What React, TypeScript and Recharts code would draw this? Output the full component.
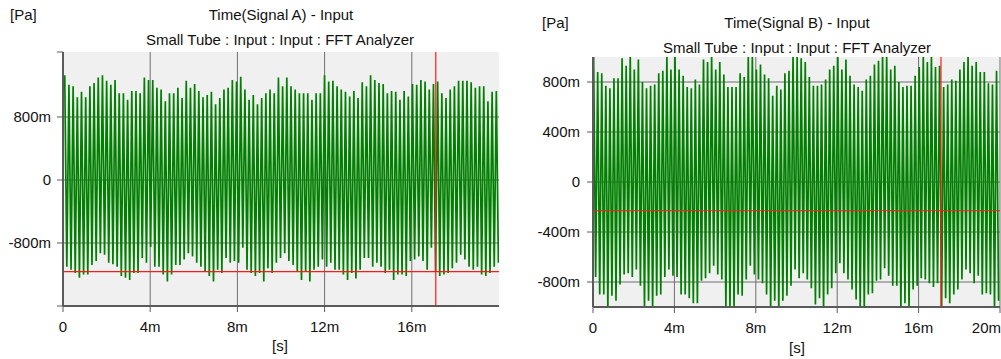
import React from 'react';
import { LineChart, Line, XAxis, YAxis, CartesianGrid, ReferenceLine } from 'recharts';

// Signal A: peak / trough of every cycle (Pa)
const A_PEAKS = [
  1.33, 1.21, 1.19, 1.05, 1.12, 1.05, 1.19, 1.23, 1.30, 1.33,
  1.26, 1.21, 1.27, 1.10, 1.10, 1.02, 1.13, 1.13, 1.10, 1.30,
  1.27, 1.27, 1.17, 1.15, 1.00, 1.10, 1.10, 1.17, 1.04, 1.26,
  1.17, 1.22, 1.13, 1.05, 1.08, 1.12, 0.96, 1.04, 1.15, 1.17,
  1.27, 1.25, 1.31, 1.15, 1.02, 1.08, 0.96, 1.04, 1.10, 1.15,
  1.10, 1.30, 1.19, 1.30, 1.19, 1.15, 1.10, 1.10, 1.10, 1.02,
  1.10, 1.10, 1.33, 1.25, 1.26, 1.19, 1.15, 1.12, 1.06, 1.13,
  1.04, 1.24, 1.19, 1.33, 1.27, 1.23, 1.22, 1.10, 1.13, 1.12,
  1.02, 1.13, 1.06, 1.22, 1.21, 1.27, 1.25, 1.15, 1.22, 1.25,
  1.10, 1.04, 1.15, 1.19, 1.26, 1.26, 1.26, 1.24, 1.17, 1.19,
  1.19, 1.00, 1.12, 1.13,
];
const A_TROUGHS = [
  -1.10, -1.14, -1.18, -1.24, -1.20, -1.20, -1.08, -1.03, -0.93, -0.95,
  -1.05, -1.07, -1.10, -1.22, -1.24, -1.27, -1.18, -1.18, -0.99, -1.05,
  -0.85, -1.10, -1.10, -1.20, -1.29, -1.20, -1.08, -1.08, -1.01, -0.93,
  -0.97, -1.05, -1.10, -1.16, -1.22, -1.29, -1.14, -1.18, -0.99, -1.05,
  -1.03, -1.05, -0.86, -1.14, -1.18, -1.22, -1.18, -1.29, -1.12, -1.18,
  -1.05, -0.99, -0.93, -1.03, -1.08, -1.16, -1.27, -1.16, -1.29, -1.14,
  -1.10, -1.01, -1.10, -1.05, -1.14, -1.14, -1.20, -1.27, -1.18, -1.25,
  -1.14, -0.99, -0.99, -1.10, -1.05, -1.10, -1.18, -1.14, -1.27, -1.20,
  -1.20, -1.22, -1.03, -1.01, -0.97, -1.03, -1.14, -0.86, -1.16, -1.22,
  -1.20, -1.18, -1.12, -1.05, -0.95, -1.01, -1.10, -1.14, -1.10, -1.20,
  -1.22, -1.18, -1.10, -1.05,
];

// Signal B (values past +-1 are clipped by the plot)
const B_PEAKS = [
  1.02, 0.88, 0.87, 0.77, 0.75, 0.83, 0.83, 0.99, 0.93, 1.02,
  0.90, 0.98, 0.80, 0.75, 0.77, 0.78, 0.87, 0.89, 1.02, 0.90,
  1.02, 0.90, 0.85, 0.76, 0.75, 0.82, 0.78, 0.98, 0.96, 1.02,
  0.90, 0.96, 0.86, 0.76, 0.76, 0.76, 0.87, 0.84, 1.02, 1.02,
  0.90, 0.94, 0.86, 0.83, 0.69, 0.77, 0.74, 0.87, 0.89, 1.02,
  1.00, 0.99, 0.96, 0.84, 0.77, 0.77, 0.78, 0.82, 0.90, 0.93,
  1.02, 0.90, 0.98, 0.85, 0.78, 0.76, 0.73, 0.82, 0.85, 0.94,
  0.97, 1.02, 1.02, 0.90, 0.93, 0.80, 0.76, 0.77, 0.77, 0.85,
  0.92, 1.02, 0.96, 1.02, 0.92, 0.93, 0.76, 0.78, 0.82, 0.81,
  0.90, 0.96, 1.02, 0.93, 0.96, 0.88, 0.88, 0.79, 0.78, 0.89,
];
const B_TROUGHS = [
  -0.76, -0.90, -0.90, -1.02, -0.91, -0.95, -0.82, -0.74, -0.73, -0.76,
  -0.70, -0.83, -1.02, -0.95, -1.02, -0.91, -0.90, -0.76, -0.70, -0.75,
  -0.76, -0.90, -0.90, -0.93, -0.97, -0.97, -0.79, -0.77, -0.73, -0.67,
  -0.74, -0.78, -1.02, -1.02, -1.02, -0.90, -0.91, -0.78, -0.67, -0.74,
  -0.78, -0.81, -0.90, -1.02, -0.95, -1.02, -0.95, -0.91, -0.83, -0.70,
  -0.77, -0.73, -0.78, -0.85, -0.98, -0.93, -1.02, -0.90, -0.85, -0.73,
  -0.65, -0.73, -0.78, -0.86, -0.94, -1.02, -1.02, -0.90, -0.89, -0.79,
  -0.78, -0.69, -0.75, -0.83, -0.83, -1.02, -0.97, -1.02, -0.86, -0.83,
  -0.77, -0.78, -0.81, -0.84, -0.81, -1.02, -0.93, -0.97, -0.90, -0.86,
  -0.78, -0.70, -0.73, -0.81, -0.75, -0.90, -0.89, -0.90, -1.02, -0.95,
];

// sample grid (ms): first peak and cycle length
const A_START = 0.08;
const A_PERIOD = 0.1922;
const B_START = 0.03;
const B_PERIOD = 0.2;

const A_YTICKS = [-1.6, -0.8, 0, 0.8, 1.625];
const A_XTICKS = [0, 4, 8, 12, 16];
const B_YTICKS = [-0.8, -0.4, 0, 0.4, 0.8];
const B_XTICKS = [0, 4, 8, 12, 16, 20];

// cursor positions
const A_CURSOR = { t: 17.1, v: -1.164 };
const B_CURSOR = { t: 17.1, v: -0.23 };

const build = (peaks: number[], troughs: number[], start: number, period: number) => {
  const out: { t: number; v: number }[] = [];
  peaks.forEach((p, i) => {
    out.push({ t: start + i * period, v: p });
    if (i < troughs.length) out.push({ t: start + (i + 0.5) * period, v: troughs[i] });
  });
  return out;
};

const dataA = build(A_PEAKS, A_TROUGHS, A_START, A_PERIOD);
const dataB = build(B_PEAKS, B_TROUGHS, B_START, B_PERIOD);

const milli = (v: number) => (v === 0 ? '0' : `${Math.round(v * 1000)}m`);
const yFmtA = (v: number) => (v === -1.6 || v === 1.625 ? '' : milli(v));
const xFmt = (v: number) => (v === 0 ? '0' : `${v}m`);

const FONT = '"Liberation Sans", Arial, sans-serif';
const AXIS = '#5a5a5a';
const GRID = '#6e6e6e';
const GREEN = '#007f00';
const RED = '#ff1a1a';
const tickStyle = { fontSize: 15, fill: '#111', fontFamily: FONT };

const XTickB = (props: any) => {
  const { x, y, payload } = props;
  const last = payload.value === 20;
  return (
    <text x={last ? x + 1 : x} y={y} dy="0.71em" textAnchor={last ? 'end' : 'middle'} {...tickStyle}>
      {xFmt(payload.value)}
    </text>
  );
};

const label = (left: number, top: number, text: string, center = true) => (
  <div
    style={{
      position: 'absolute',
      left: center ? left - 200 : left,
      top,
      width: center ? 400 : undefined,
      textAlign: center ? 'center' : 'left',
      fontSize: 15,
      lineHeight: '18px',
      color: '#111',
      whiteSpace: 'nowrap',
    }}
  >
    {text}
  </div>
);

export default function App() {
  return (
    <div style={{ position: 'absolute', left: 0, top: 0, width: 1001, height: 359, background: '#fff', fontFamily: FONT, overflow: 'hidden' }}>
      <div style={{ position: 'absolute', left: 0, top: 0 }}>
        <LineChart width={500} height={359} data={dataA} margin={{ top: 52, right: 1, bottom: 23, left: 0 }}>
          <CartesianGrid horizontal={false} vertical={false} fill="#f0f0f0" />
          <XAxis
            type="number"
            dataKey="t"
            domain={[0, 20]}
            ticks={A_XTICKS}
            interval={0}
            allowDataOverflow
            tickFormatter={xFmt}
            height={30}
            tickSize={6}
            tickMargin={9}
            tick={tickStyle}
            axisLine={{ stroke: AXIS, strokeWidth: 2 }}
            tickLine={{ stroke: AXIS }}
          />
          <YAxis
            type="number"
            domain={[-1.6, 1.625]}
            ticks={A_YTICKS}
            interval={0}
            allowDataOverflow
            tickFormatter={yFmtA}
            width={63}
            tickSize={6}
            tickMargin={6}
            tick={tickStyle}
            axisLine={{ stroke: AXIS, strokeWidth: 2 }}
            tickLine={{ stroke: AXIS }}
          />
          <Line type="linear" dataKey="v" stroke={GREEN} strokeWidth={1.7} dot={false} isAnimationActive={false} />
          <CartesianGrid
            fill="none"
            stroke={GRID}
            horizontalValues={[-0.8, 0, 0.8]}
            verticalValues={[4, 8, 12, 16]}
          />
          <ReferenceLine y={A_CURSOR.v} stroke={RED} strokeWidth={1.2} />
          <ReferenceLine x={A_CURSOR.t} stroke={RED} strokeWidth={1.2} />
        </LineChart>
      </div>

      <div style={{ position: 'absolute', left: 500, top: 0 }}>
        <LineChart width={501} height={359} data={dataB} margin={{ top: 57, right: 1, bottom: 22, left: 0 }}>
          <CartesianGrid horizontal={false} vertical={false} fill="#f0f0f0" />
          <XAxis
            type="number"
            dataKey="t"
            domain={[0, 20]}
            ticks={B_XTICKS}
            interval={0}
            allowDataOverflow
            height={30}
            tickSize={6}
            tickMargin={9}
            tick={<XTickB />}
            axisLine={{ stroke: AXIS, strokeWidth: 2 }}
            tickLine={{ stroke: AXIS }}
          />
          <YAxis
            type="number"
            domain={[-1, 1]}
            ticks={B_YTICKS}
            interval={0}
            allowDataOverflow
            tickFormatter={milli}
            width={93}
            tickSize={6}
            tickMargin={7}
            tick={tickStyle}
            axisLine={{ stroke: AXIS, strokeWidth: 2 }}
            tickLine={{ stroke: AXIS }}
          />
          <Line type="linear" dataKey="v" stroke={GREEN} strokeWidth={1.7} dot={false} isAnimationActive={false} />
          <CartesianGrid
            fill="none"
            stroke={GRID}
            horizontalValues={[-0.8, -0.4, 0, 0.4, 0.8]}
            verticalValues={[4, 8, 12, 16, 20]}
          />
          <ReferenceLine y={B_CURSOR.v} stroke={RED} strokeWidth={1.2} />
          <ReferenceLine x={B_CURSOR.t} stroke={RED} strokeWidth={1.2} />
        </LineChart>
      </div>

      {label(10, 6, '[Pa]', false)}
      {label(281, 6, 'Time(Signal A) - Input')}
      {label(280, 31, 'Small Tube : Input : Input : FFT Analyzer')}
      {label(280, 337, '[s]')}

      {label(542, 14, '[Pa]', false)}
      {label(797, 14, 'Time(Signal B) - Input')}
      {label(797, 39, 'Small Tube : Input : Input : FFT Analyzer')}
      {label(797, 339, '[s]')}
    </div>
  );
}
